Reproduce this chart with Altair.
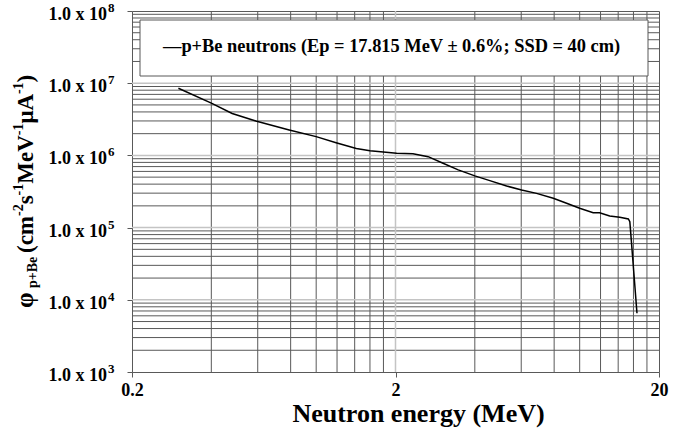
import altair as alt
import pandas as pd

# p+Be neutron spectrum (fluence per MeV per uA)
energy = [0.30, 0.40, 0.48, 0.59, 0.79, 1.0, 1.19, 1.42, 1.60, 2.02, 2.33, 2.66,
          3.03, 3.46, 4.0, 4.56, 5.28, 6.02, 6.86, 7.94, 8.92, 10.0, 11.25, 11.9,
          13.0, 14.2, 15.3, 15.5, 15.7, 16.5]
fluence = [8.5e6, 5.3e6, 3.8e6, 3.0e6, 2.25e6, 1.82e6, 1.5e6, 1.25e6, 1.16e6,
           1.07e6, 1.05e6, 9.6e5, 7.8e5, 6.3e5, 5.2e5, 4.47e5, 3.77e5, 3.32e5,
           2.98e5, 2.55e5, 2.17e5, 1.85e5, 1.61e5, 1.61e5, 1.45e5, 1.39e5,
           1.32e5, 1.21e5, 6.7e4, 6.5e3]

x_ticks = [0.2, 2, 20]
y_ticks = [1e3, 1e4, 1e5, 1e6, 1e7, 1e8]
y_tick_mantissa = "1.0 x 10"
y_tick_exponents = ["3", "4", "5", "6", "7", "8"]

# minor grid: 2..9 times each decade start
x_minor = [k * 0.2 for k in range(2, 10)] + [k * 2 for k in range(2, 10)]
y_minor = [k * 10 ** n for n in range(3, 8) for k in range(2, 10)]
x_major = [2]
y_major = [1e4, 1e5, 1e6, 1e7]

legend_text = "—p+Be neutrons (Ep = 17.815 MeV ± 0.6%; SSD = 40 cm)"
x_title = "Neutron energy (MeV)"
y_title_main = "φ"
y_title_sub = "p+Be"
# (text, superscript?)
y_title_units = [("(cm", False), ("-2", True), ("s", False), ("-1", True),
                 ("MeV", False), ("-1", True), ("μA", False), ("-1", True),
                 (")", False)]

FONT = "Liberation Serif"
MINOR = "#595959"
MAJOR = "#c4c4c4"

W, H = 527, 361

# advance widths of the bold serif face, per 1000 units of em
ADV = {"(": 333, ")": 333, "c": 444, "m": 833, "-": 333, "1": 500, "2": 500,
       "s": 389, "M": 944, "e": 444, "V": 722, "μ": 556, "A": 722}


def advance(text, size):
    return sum(ADV.get(ch, 500) for ch in text) * size / 1000.0


xscale = alt.Scale(type="log", domain=[0.2, 20], nice=False)
yscale = alt.Scale(type="log", domain=[1e3, 1e8], nice=False)

x_axis = alt.Axis(values=x_ticks, format="~g", grid=False, domain=False,
                  tickSize=5, tickColor=MINOR, labelPadding=4, labelFlush=False,
                  labelFont=FONT, labelFontWeight="bold", labelFontSize=18,
                  labelColor="black", title=x_title, titleFont=FONT,
                  titleFontWeight="bold", titleFontSize=26, titleColor="black",
                  titleBaseline="alphabetic", titleY=49, titleX=286,
                  titleAlign="center")
y_axis = alt.Axis(values=y_ticks, labels=False, grid=False, domain=False,
                  tickSize=5, tickColor=MINOR, title=None)


def xenc():
    return alt.X("E:Q", scale=xscale, axis=x_axis)


def yenc():
    return alt.Y("phi:Q", scale=yscale, axis=y_axis)


curve = pd.DataFrame({"E": energy, "phi": fluence})
ticks_df = pd.DataFrame({"phi": y_ticks, "mant": [y_tick_mantissa] * len(y_ticks),
                         "exp": y_tick_exponents})
one = pd.DataFrame({"k": [0]})

xgrid_minor = alt.Chart(pd.DataFrame({"E": x_minor})).mark_rule(
    color=MINOR, strokeWidth=1).encode(x=xenc())
ygrid_minor = alt.Chart(pd.DataFrame({"phi": y_minor})).mark_rule(
    color=MINOR, strokeWidth=1).encode(y=yenc())
xgrid_major = alt.Chart(pd.DataFrame({"E": x_major})).mark_rule(
    color=MAJOR, strokeWidth=1.5).encode(x=xenc())
ygrid_major = alt.Chart(pd.DataFrame({"phi": y_major})).mark_rule(
    color=MAJOR, strokeWidth=1.5).encode(y=yenc())

line = alt.Chart(curve).mark_line(color="black", strokeWidth=1.5).encode(
    x=xenc(), y=yenc(), order=alt.Order("E:Q"))

# y tick labels: mantissa plus raised exponent
ylab_mant = alt.Chart(ticks_df).mark_text(
    font=FONT, fontWeight="bold", fontSize=18, align="right",
    baseline="alphabetic", color="black", dy=9).encode(
    y=yenc(), x=alt.value(-25), text="mant:N")
ylab_exp = alt.Chart(ticks_df).mark_text(
    font=FONT, fontWeight="bold", fontSize=13, align="left",
    baseline="alphabetic", color="black", dy=1).encode(
    y=yenc(), x=alt.value(-24), text="exp:N")

legend_box = alt.Chart(one).mark_rect(
    fill="white", stroke=MINOR, strokeWidth=1).encode(
    x=alt.value(8), x2=alt.value(516), y=alt.value(9), y2=alt.value(65))
legend_label = alt.Chart(one).mark_text(
    font=FONT, fontWeight="bold", fontSize=18.4, align="left",
    baseline="alphabetic", color="black").encode(
    x=alt.value(31), y=alt.value(41), text=alt.value(legend_text))

# rotated y title, laid out piece by piece (reads bottom to top)
title_kw = dict(font=FONT, fontWeight="bold", angle=270, align="left",
                baseline="alphabetic", color="black")
MAIN, SUP, SUB = 23, 14, 14
BASE_X, SUP_X, SUB_X = -99, -109, -95

title_layers = [
    alt.Chart(one).mark_text(fontSize=25, **title_kw).encode(
        x=alt.value(BASE_X), y=alt.value(297), text=alt.value(y_title_main)),
    alt.Chart(one).mark_text(fontSize=SUB, **title_kw).encode(
        x=alt.value(SUB_X), y=alt.value(277), text=alt.value(y_title_sub)),
]
pos = 242.0
for text, sup in y_title_units:
    size = SUP if sup else MAIN
    title_layers.append(
        alt.Chart(one).mark_text(fontSize=size, **title_kw).encode(
            x=alt.value(SUP_X if sup else BASE_X), y=alt.value(round(pos, 1)),
            text=alt.value(text)))
    pos -= advance(text, size)

chart = alt.layer(
    xgrid_minor, ygrid_minor, xgrid_major, ygrid_major, line,
    ylab_mant, ylab_exp, legend_box, legend_label, *title_layers,
).properties(
    width=W, height=H,
    autosize=alt.AutoSizeParams(type="none"),
    padding={"left": 132, "top": 11, "right": 20, "bottom": 60},
    background="white",
).configure_view(stroke=MINOR, strokeWidth=1)

chart.save("out.html", embed_options={"renderer": "svg", "actions": False})
